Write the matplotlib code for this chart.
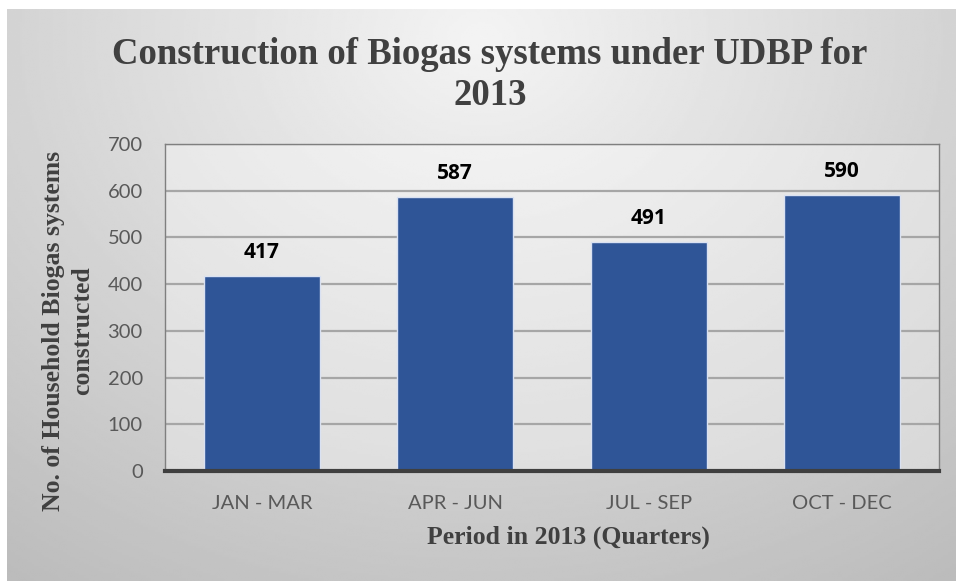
import numpy as np
import matplotlib.pyplot as plt

# data
quarters = ['JAN - MAR', 'APR - JUN', 'JUL - SEP', 'OCT - DEC']
systems_built = [417, 587, 491, 590]
y_ticks = [0, 100, 200, 300, 400, 500, 600, 700]

title_txt = 'Construction of Biogas systems under UDBP for\n2013'
x_label = 'Period in 2013 (Quarters)'
y_label = 'No. of Household Biogas systems\nconstructed'

W, H = 956, 581
fig = plt.figure(figsize=(W / 100, H / 100), dpi=100)
fig.patch.set_facecolor('white')

# gray radial gradient behind the chart
bg = fig.add_axes([7 / W, 0, (W - 7) / W, (H - 9) / H])
gx, gy = np.meshgrid(np.linspace(0, 1, 400), np.linspace(0, 1, 250))
dist = np.sqrt(((gx - 0.5) / 0.75) ** 2 + ((gy - 0.05) / 1.0) ** 2)
shade = 0.955 - 0.19 * np.clip(dist, 0, 1.2)
bg.imshow(shade, cmap='gray', vmin=0, vmax=1, aspect='auto',
          extent=[0, 1, 1, 0], interpolation='bilinear')
bg.set_xlim(0, 1)
bg.set_ylim(1, 0)
bg.axis('off')

left, right, top, bottom = 165, 939, 144, 471
ax = fig.add_axes([left / W, 1 - bottom / H, (right - left) / W, (bottom - top) / H])
ax.set_facecolor((1, 1, 1, 0.35))

x = np.arange(len(quarters))
bars = ax.bar(x, systems_built, width=0.6, color='#2F5597',
              edgecolor='#d9e1f2', linewidth=1.0, zorder=3)

for b, v in zip(bars, systems_built):
    ax.text(b.get_x() + b.get_width() / 2, v + 28, str(v), ha='center', va='bottom',
            fontsize=15, fontweight='bold', family='Open Sans', color='black')

ax.set_xlim(-0.5, len(quarters) - 0.5)
ax.set_ylim(0, 700)
ax.set_yticks(y_ticks)
ax.set_xticks(x)
ax.set_xticklabels(quarters)
ax.yaxis.grid(True, color='#a6a6a6', linewidth=1.6, zorder=0)
ax.set_axisbelow(True)
ax.tick_params(length=0, labelsize=14.5, labelcolor='#595959')
ax.tick_params(axis='y', pad=16)
ax.tick_params(axis='x', pad=17)
for lab in ax.get_xticklabels() + ax.get_yticklabels():
    lab.set_family('Lato')

for side in ['top', 'left', 'right']:
    ax.spines[side].set_color('#7f7f7f')
    ax.spines[side].set_linewidth(1.0)
ax.spines['bottom'].set_color('#3f3f3f')
ax.spines['bottom'].set_linewidth(3)
ax.spines['bottom'].set_zorder(4)

ax.set_xlabel(x_label, family='Liberation Serif', fontweight='bold', fontsize=18.5,
              color='#404040')
ax.set_ylabel(y_label, family='Liberation Serif', fontweight='bold', fontsize=18.5,
              color='#404040', linespacing=1.35)
ax.xaxis.set_label_coords(0.521, -0.166)
ax.yaxis.set_label_coords(-0.091, 0.428)

fig.text(490 / W, 1 - 75 / H, title_txt, ha='center', va='center',
         family='Liberation Serif', fontweight='bold', fontsize=26.5,
         color='#404040', linespacing=1.2)

fig.savefig('out.png', dpi=100)
